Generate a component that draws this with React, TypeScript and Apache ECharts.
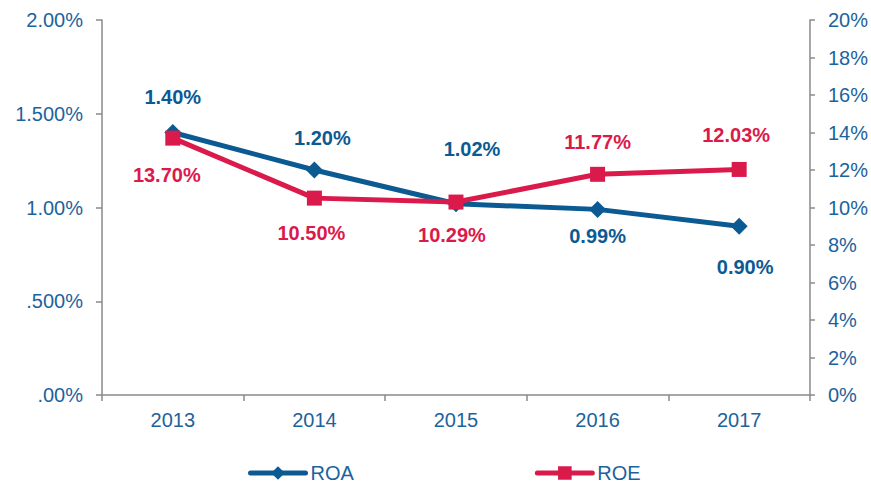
import React, { useEffect, useRef } from "react";
import * as echarts from "echarts";

const years = ["2013", "2014", "2015", "2016", "2017"];
const roa = [1.4, 1.2, 1.02, 0.99, 0.9];
const roe = [13.7, 10.5, 10.29, 11.77, 12.03];
const roaLabels = ["1.40%", "1.20%", "1.02%", "0.99%", "0.90%"];
const roeLabels = ["13.70%", "10.50%", "10.29%", "11.77%", "12.03%"];
const leftTickLabels: Record<string, string> = {
  "0": ".00%",
  "0.5": ".500%",
  "1": "1.00%",
  "1.5": "1.500%",
  "2": "2.00%",
};

const roaPos = ["top", "top", "top", "bottom", "bottom"];
const roaDist = [17, 14, 36, 8, 22];
const roaOff = [0, 8, 16, 0, 6];
const roePos = ["bottom", "bottom", "bottom", "top", "top"];
const roeDist = [19, 17, 15, 15, 17];
const roeOff = [-6, -3, -4, 0, -3];

const BLUE = "#0c5a92";
const RED = "#db1a4c";
const TXT = "#1c639d";
const AX = "#8a8a8a";

export default function App() {
  const ref = useRef<HTMLDivElement>(null);
  useEffect(() => {
    const chart = echarts.init(ref.current!, null, { renderer: "svg" });
    const font = "'Liberation Sans', Arial, sans-serif";
    chart.setOption({
      animation: false,
      textStyle: { fontFamily: font },
      grid: { left: 102, right: 59, top: 20, bottom: 90 },
      legend: {
        top: 458,
        left: 243,
        itemWidth: 55,
        itemHeight: 17,
        itemGap: 181,
        lineStyle: { width: 5, cap: "round" },
        textStyle: { fontSize: 20, color: TXT, fontFamily: font },
        data: ["ROA", "ROE"],
      },
      xAxis: {
        type: "category",
        data: years,
        boundaryGap: true,
        axisLine: { lineStyle: { color: AX, width: 1.5 } },
        axisTick: { show: true, length: 6, lineStyle: { color: AX, width: 1.5 } },
        axisLabel: { fontSize: 20, color: TXT, margin: 15, fontFamily: font },
      },
      yAxis: [
        {
          type: "value",
          min: 0,
          max: 2,
          interval: 0.5,
          axisLine: { show: true, lineStyle: { color: AX, width: 1.5 } },
          axisTick: { show: true, length: 6, lineStyle: { color: AX, width: 1.5 } },
          splitLine: { show: false },
          axisLabel: {
            fontSize: 20,
            color: TXT,
            margin: 19,
            fontFamily: font,
            formatter: (v: number) => leftTickLabels[String(v)] ?? String(v),
          },
        },
        {
          type: "value",
          min: 0,
          max: 20,
          interval: 2,
          position: "right",
          axisLine: { show: true, lineStyle: { color: AX, width: 1.5 } },
          axisTick: { show: true, length: 5, lineStyle: { color: AX, width: 1.5 } },
          splitLine: { show: false },
          axisLabel: {
            fontSize: 20,
            color: TXT,
            margin: 18,
            fontFamily: font,
            formatter: (v: number) => v + "%",
          },
        },
      ],
      series: [
        {
          name: "ROA",
          type: "line",
          yAxisIndex: 0,
          symbol: "diamond",
          symbolSize: 17,
          lineStyle: { color: BLUE, width: 5 },
          itemStyle: { color: BLUE },
          z: 3,
          data: roa.map((v, i) => ({
            value: v,
            label: {
              show: true,
              position: roaPos[i],
              distance: roaDist[i],
              offset: [roaOff[i], 0],
              formatter: roaLabels[i],
              fontSize: 20,
              fontWeight: "bold",
              color: BLUE,
              fontFamily: font,
            },
          })),
        },
        {
          name: "ROE",
          type: "line",
          yAxisIndex: 1,
          symbol: "rect",
          symbolSize: 15,
          lineStyle: { color: RED, width: 5 },
          itemStyle: { color: RED },
          z: 4,
          data: roe.map((v, i) => ({
            value: v,
            label: {
              show: true,
              position: roePos[i],
              distance: roeDist[i],
              offset: [roeOff[i], 0],
              formatter: roeLabels[i],
              fontSize: 20,
              fontWeight: "bold",
              color: RED,
              fontFamily: font,
            },
          })),
        },
      ],
    });
    return () => chart.dispose();
  }, []);
  return <div ref={ref} style={{ width: 871, height: 485, position: "absolute", left: 0, top: 0 }} />;
}
